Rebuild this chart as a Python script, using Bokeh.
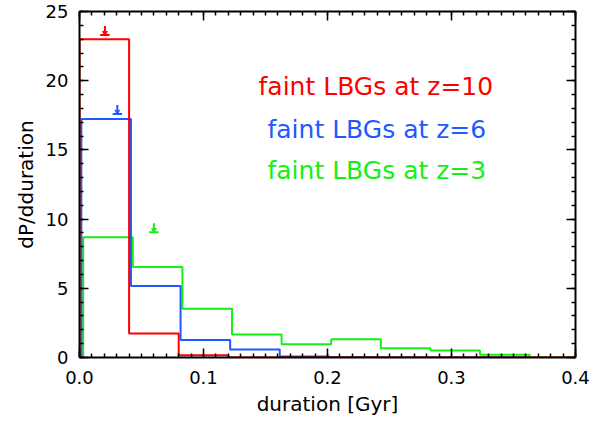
from bokeh.plotting import figure
from bokeh.models import (LinearAxis, SingleIntervalTicker, NumeralTickFormatter, Range1d,
                          CustomJSTickFormatter)
from bokeh.core.properties import value
from bokeh.embed import file_html
from bokeh.resources import INLINE

# ---- data ----
bin_width = 0.04
red_start = 0.0
red_vals = [23.0, 1.74, 0.17, 0.0, 0.0, 0.0, 0.0, 0.0, 0.0, 0.0]
blue_start = 0.0015
blue_vals = [17.24, 5.16, 1.27, 0.57, 0.07, 0.02, 0.0, 0.0, 0.0]
green_start = 0.003
green_vals = [8.68, 6.53, 3.52, 1.67, 0.95, 1.31, 0.67, 0.50, 0.19, 0.0]

arrow_x = [0.0205, 0.0305, 0.0600]
arrow_y = [23.3, 17.6, 9.05]

labels = ["faint LBGs at z=10", "faint LBGs at z=6", "faint LBGs at z=3"]
x_ticks_fmt = "0.0"

RED = "#FF0000"
BLUE = "#1E5AFF"
GREEN = "#14F014"
colors = [RED, BLUE, GREEN]
FONT = "DejaVu Sans"

p = figure(width=602, height=423, output_backend="svg", toolbar_location=None,
           x_range=Range1d(0, 0.4), y_range=Range1d(0, 25),
           min_border_left=79, min_border_right=27, min_border_top=11, min_border_bottom=66,
           x_axis_label="duration [Gyr]", y_axis_label="dP/dduration")
p.grid.visible = False
p.outline_line_color = None
p.background_fill_color = "white"
p.border_fill_color = "white"


def step_path(start, vals):
    xs, ys = [start], [0.0]
    for i, v in enumerate(vals):
        e0 = start + i * bin_width
        e1 = start + (i + 1) * bin_width
        xs += [e0, e1]
        ys += [v, v]
    xs.append(start + len(vals) * bin_width)
    ys.append(0.0)
    return xs, ys


for start, vals, col in [(green_start, green_vals, GREEN),
                         (blue_start, blue_vals, BLUE),
                         (red_start, red_vals, RED)]:
    xs, ys = step_path(start, vals)
    p.line(xs, ys, line_color=col, line_width=2)

# arrows (downward markers)
stem = 0.65
half_bar = 0.0038
for ax_, ay_, col in zip(arrow_x, arrow_y, colors):
    p.segment(x0=[ax_], y0=[ay_ + stem], x1=[ax_], y1=[ay_], line_color=col, line_width=2)
    p.segment(x0=[ax_ - half_bar], y0=[ay_], x1=[ax_ + half_bar], y1=[ay_], line_color=col, line_width=2)
    p.segment(x0=[ax_ - 0.0018, ax_ + 0.0018], y0=[ay_ + 0.3, ay_ + 0.3],
              x1=[ax_, ax_], y1=[ay_, ay_], line_color=col, line_width=1.5)

# legend texts
text_pos = [(0.1444, 19.6), (0.1516, 16.45), (0.1516, 13.5)]
for (tx, ty), lab, col in zip(text_pos, labels, colors):
    p.text(x=[tx], y=[ty], text=[lab], text_color=col, text_font=value(FONT),
           text_font_size="25px", text_baseline="middle", text_align="left")

# axes
xt = SingleIntervalTicker(interval=0.1, num_minor_ticks=10)
yt = SingleIntervalTicker(interval=5, num_minor_ticks=5)
p.xaxis.ticker = xt
p.yaxis.ticker = yt
p.xaxis.formatter = NumeralTickFormatter(format=x_ticks_fmt)
p.yaxis.formatter = NumeralTickFormatter(format="0")

for ax in [p.xaxis[0], p.yaxis[0]]:
    ax.axis_line_width = 2
    ax.axis_line_color = "black"
    ax.major_tick_in = 9
    ax.major_tick_out = 0
    ax.minor_tick_in = 4
    ax.minor_tick_out = 0
    ax.major_tick_line_width = 1.5
    ax.minor_tick_line_width = 1.5
    ax.major_label_text_font = FONT
    ax.major_label_text_font_size = "18px"
    ax.major_label_text_color = "black"
    ax.axis_label_text_font = FONT
    ax.axis_label_text_font_size = "20px"
    ax.axis_label_text_font_style = "normal"
    ax.axis_label_text_color = "black"

p.xaxis.major_label_standoff = 13
p.xaxis.axis_label_standoff = 5
p.yaxis.major_label_standoff = 11
p.yaxis.axis_label_standoff = 5

blank = CustomJSTickFormatter(code="return ''")
for loc, tk in [("above", xt), ("right", yt)]:
    a = LinearAxis(ticker=tk, formatter=blank)
    a.axis_line_width = 2
    a.axis_line_color = "black"
    a.major_tick_in = 9
    a.major_tick_out = 0
    a.minor_tick_in = 4
    a.minor_tick_out = 0
    a.major_tick_line_width = 1.5
    a.minor_tick_line_width = 1.5
    a.major_label_standoff = 0
    p.add_layout(a, loc)

open("out.html", "w").write(file_html(p, INLINE))
